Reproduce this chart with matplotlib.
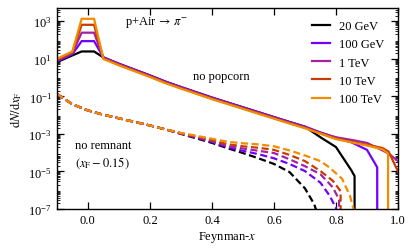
import numpy as np
import matplotlib
matplotlib.use("Agg")
import matplotlib.pyplot as plt

plt.rcParams['font.family'] = ['Liberation Serif', 'DejaVu Serif']
plt.rcParams['mathtext.fontset'] = 'stix'
plt.rcParams['font.size'] = 9

labels = ["20 GeV", "100 GeV", "1 TeV", "10 TeV", "100 TeV"]
colors = ["#000000", "#7300ff", "#a323a3", "#c83c00", "#f08c00"]

# "no popcorn" (solid), log10(dN/dxF)
x_solid_common = [0.05, 0.1, 0.15, 0.2, 0.25, 0.3, 0.35, 0.4, 0.45, 0.5, 0.55, 0.6, 0.65, 0.7]
y_solid_common = [1.04, 0.70, 0.39, 0.08, -0.25, -0.54, -0.82, -1.10, -1.36, -1.62, -1.88, -2.14, -2.40, -2.65]

x_solid_head = [-0.1, -0.05, -0.02, 0.02]
y_solid_head = {
    "20 GeV":  [0.82, 1.18, 1.39, 1.39],
    "100 GeV": [0.86, 1.25, 1.94, 1.94],
    "1 TeV":   [0.90, 1.30, 2.39, 2.39],
    "10 TeV":  [0.95, 1.35, 2.81, 2.81],
    "100 TeV": [1.00, 1.39, 3.13, 3.13],
}
solid_offset = {"20 GeV": 0.03, "100 GeV": 0.04, "1 TeV": 0.0, "10 TeV": -0.02, "100 TeV": -0.05}

x_solid_tail = {
    "20 GeV":  [0.75, 0.8, 0.85, 0.86, 0.8601],
    "100 GeV": [0.75, 0.8, 0.85, 0.9, 0.933, 0.9331],
    "1 TeV":   [0.75, 0.8, 0.85, 0.9, 0.95, 0.97, 1.0],
    "10 TeV":  [0.75, 0.8, 0.85, 0.9, 0.95, 0.97, 1.0],
    "100 TeV": [0.75, 0.8, 0.85, 0.9, 0.95, 0.968, 0.9681],
}
y_solid_tail = {
    "20 GeV":  [-3.18, -3.70, -4.95, -5.25, -8.0],
    "100 GeV": [-2.92, -3.20, -3.45, -3.85, -4.78, -8.0],
    "1 TeV":   [-2.95, -3.18, -3.32, -3.48, -3.88, -4.05, -4.45],
    "10 TeV":  [-2.97, -3.24, -3.42, -3.58, -3.75, -3.95, -5.0],
    "100 TeV": [-2.99, -3.28, -3.45, -3.62, -3.82, -4.05, -8.0],
}

# "no remnant" (dashed), log10(dN/dxF)
x_dash_common = [-0.1, -0.05, 0.0, 0.05, 0.1, 0.15, 0.2, 0.25]
y_dash_common = [-0.87, -1.42, -1.75, -1.98, -2.17, -2.36, -2.55, -2.76]
x_dash_tail = {
    "20 GeV":  [0.3, 0.35, 0.4, 0.45, 0.5, 0.55, 0.6, 0.65, 0.7, 0.73, 0.745],
    "100 GeV": [0.3, 0.35, 0.4, 0.45, 0.5, 0.55, 0.6, 0.65, 0.7, 0.75, 0.78, 0.8, 0.81],
    "1 TeV":   [0.3, 0.35, 0.4, 0.45, 0.5, 0.55, 0.6, 0.65, 0.7, 0.75, 0.79, 0.81, 0.8101],
    "10 TeV":  [0.3, 0.35, 0.4, 0.45, 0.5, 0.55, 0.6, 0.65, 0.7, 0.75, 0.79, 0.815, 0.8151],
    "100 TeV": [0.3, 0.35, 0.4, 0.45, 0.5, 0.55, 0.6, 0.65, 0.7, 0.75, 0.78, 0.82, 0.845, 0.86],
}
y_dash_tail = {
    "20 GeV":  [-3.00, -3.24, -3.48, -3.76, -4.02, -4.30, -4.60, -5.03, -5.90, -6.75, -7.5],
    "100 GeV": [-2.98, -3.20, -3.43, -3.70, -3.90, -4.08, -4.30, -4.60, -4.98, -5.60, -6.30, -6.95, -7.5],
    "1 TeV":   [-2.97, -3.17, -3.38, -3.64, -3.78, -3.90, -4.02, -4.35, -4.72, -5.15, -5.85, -6.50, -8.0],
    "10 TeV":  [-2.96, -3.14, -3.33, -3.55, -3.66, -3.74, -3.85, -4.12, -4.45, -4.98, -5.50, -6.05, -8.0],
    "100 TeV": [-2.95, -3.10, -3.26, -3.42, -3.50, -3.56, -3.66, -3.88, -4.15, -4.45, -4.80, -5.40, -6.29, -7.2],
}

fig = plt.figure(figsize=(4.15, 2.53), dpi=100)
ax = fig.add_axes([0.137, 0.170, 0.822, 0.794])

for lab, c in zip(labels, colors):
    xs = x_solid_head + x_solid_common + x_solid_tail[lab]
    ys = y_solid_head[lab] + [v + solid_offset[lab] for v in y_solid_common] + y_solid_tail[lab]
    ax.plot(xs, 10.0 ** np.array(ys), color=c, lw=1.6, label=lab, solid_joinstyle='miter')
for lab, c in zip(labels, colors):
    xs = x_dash_common + x_dash_tail[lab]
    ys = y_dash_common + y_dash_tail[lab]
    ax.plot(xs, 10.0 ** np.array(ys), color=c, lw=1.6, ls=(0, (3.2, 1.6)))

ax.set_yscale('log')
ax.set_xlim(-0.1, 1.0)
ax.set_ylim(1e-7, 5e3)
ax.set_xticks([0.0, 0.2, 0.4, 0.6, 0.8, 1.0])
ax.set_yticks([1e-7, 1e-5, 1e-3, 1e-1, 1e1, 1e3])
ax.yaxis.set_minor_locator(matplotlib.ticker.LogLocator(base=10, subs=np.arange(2, 10), numticks=30))
ax.yaxis.set_minor_formatter(matplotlib.ticker.NullFormatter())
ax.tick_params(which='both', direction='in', top=True, right=True)
ax.tick_params(which='major', length=5, width=0.9)
ax.tick_params(which='minor', length=2.5, width=0.6)
for s in ax.spines.values():
    s.set_linewidth(1.0)

ax.set_xlabel('Feynman-$x$', labelpad=2)
ax.set_ylabel(r'$\mathrm{d}N/\mathrm{d}x_\mathrm{F}$', labelpad=3)

ax.text(0.12, 10**3.0, r'p+Air$\,\rightarrow\,\pi^{-}$', ha='left', va='center')
ax.text(0.43, 10**0.1, 'no popcorn', ha='center', va='center')
ax.text(-0.04, 10**-3.6, 'no remnant', ha='left', va='center')
ax.text(-0.04, 10**-4.5, r'$(x_\mathrm{F} - 0.15)$', ha='left', va='center')

ax.legend(loc='upper right', frameon=False, handlelength=1.45, handletextpad=0.75,
          labelspacing=0.5, borderaxespad=0.4, bbox_to_anchor=(0.99, 0.99))

fig.savefig('out.png', dpi=100)
